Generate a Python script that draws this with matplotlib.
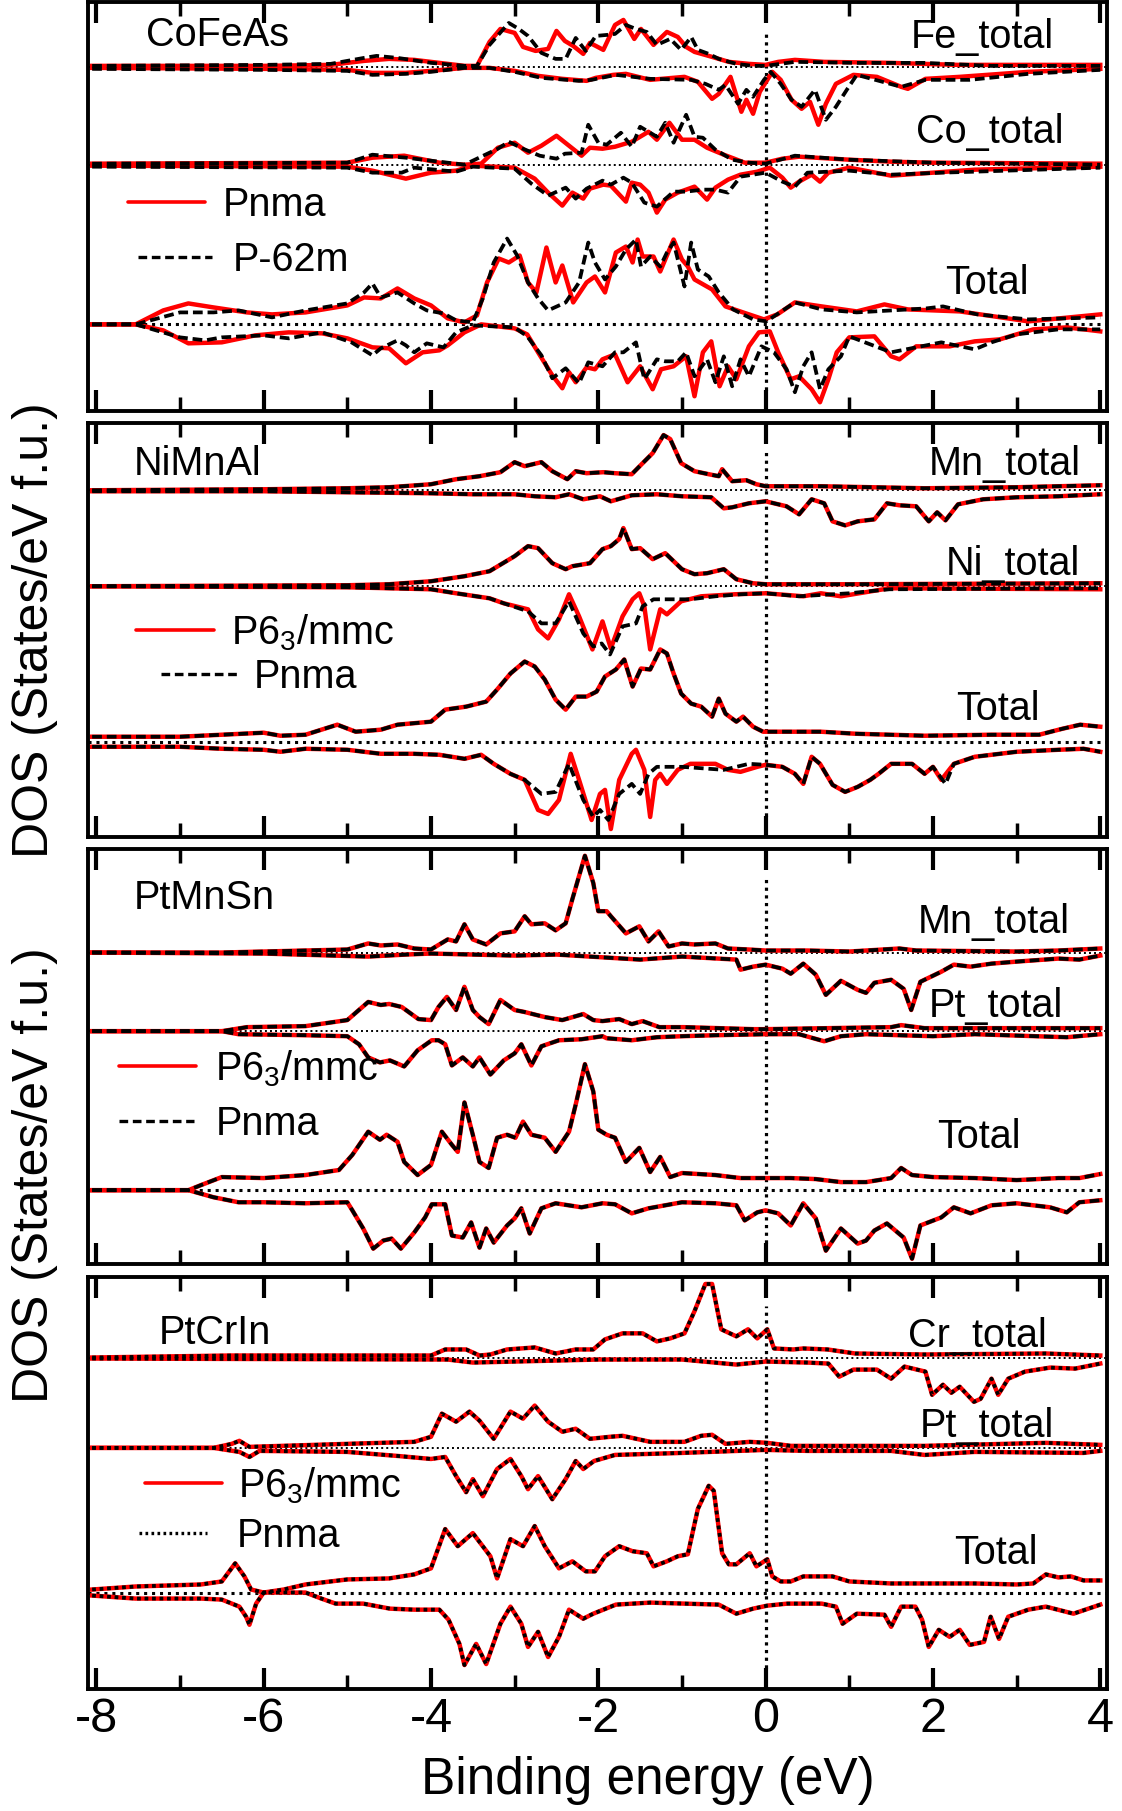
import numpy as np
import matplotlib.pyplot as plt

plt.rcParams['font.family'] = ['Liberation Sans', 'DejaVu Sans']
plt.rcParams['mathtext.fontset'] = 'custom'
plt.rcParams['mathtext.rm'] = 'Liberation Sans'
plt.rcParams['mathtext.it'] = 'Liberation Sans:italic'

# ---- DOS data: (energy eV, DOS in arbitrary units) ----
# spin-down values are stored as magnitudes and drawn below the baseline

# CoFeAs : red = Pnma, black = P-62m
cofeas_fe_up_red = [(-8.05, 1), (-6.0, 1), (-5.2, 2), (-4.8, 6), (-4.5, 8), (-4.2, 7), (-3.9, 4), (-3.6, 1),
                    (-3.45, 1), (-3.3, 25), (-3.17, 38), (-3.0, 34), (-2.9, 20), (-2.75, 16), (-2.6, 18),
                    (-2.5, 36), (-2.4, 26), (-2.3, 21), (-2.18, 13), (-2.1, 24), (-2.03, 21), (-1.94, 17),
                    (-1.8, 42), (-1.7, 47), (-1.57, 28), (-1.49, 38), (-1.34, 22), (-1.18, 35), (-1.05, 30),
                    (-0.95, 20), (-0.85, 15), (-0.64, 10), (-0.44, 5), (-0.2, 3), (0.0, 2), (0.15, 5),
                    (0.35, 7), (0.7, 5), (1.5, 4), (2.3, 2), (4.0, 2)]
cofeas_fe_up_blk = [(-8.05, 1), (-6.0, 2), (-5.2, 3), (-4.8, 9), (-4.65, 11), (-4.4, 9), (-4.0, 4), (-3.6, 1),
                    (-3.45, 1), (-3.3, 22), (-3.07, 44), (-2.95, 38), (-2.84, 31), (-2.68, 14), (-2.51, 8),
                    (-2.39, 8), (-2.27, 29), (-2.15, 16), (-2.03, 31), (-1.9, 32), (-1.8, 33), (-1.67, 42),
                    (-1.55, 38), (-1.42, 35), (-1.3, 22), (-1.14, 28), (-1.01, 17), (-0.89, 30), (-0.81, 17),
                    (-0.68, 13), (-0.56, 8), (-0.35, 3), (-0.15, 1), (0.0, 1), (0.35, 5), (1.1, 4), (1.9, 4),
                    (2.7, 1), (4.0, 1)]
cofeas_fe_dn_red = [(-8.05, 1), (-6.0, 2), (-5.0, 3), (-4.7, 6), (-4.3, 6), (-4.0, 4), (-3.6, 1), (-3.3, 1),
                    (-3.0, 4), (-2.72, 9), (-2.43, 12), (-2.14, 14), (-2.03, 11), (-1.82, 8), (-1.67, 7),
                    (-1.38, 13), (-0.97, 10), (-0.81, 15), (-0.64, 32), (-0.56, 27), (-0.42, 10), (-0.29, 45),
                    (-0.23, 33), (-0.15, 47), (-0.07, 25), (0.08, 5), (0.18, 13), (0.31, 33), (0.43, 42),
                    (0.53, 35), (0.63, 58), (0.72, 37), (0.84, 17), (1.05, 8), (1.33, 10), (1.62, 20),
                    (1.7, 22), (1.91, 12), (2.32, 10), (3.14, 5), (4.0, 2)]
cofeas_fe_dn_blk = [(-8.05, 2), (-6.0, 3), (-5.0, 4), (-4.7, 8), (-4.3, 7), (-4.0, 5), (-3.6, 1), (-3.3, 1),
                    (-3.0, 5), (-2.68, 11), (-2.23, 14), (-2.08, 13), (-1.79, 8), (-1.38, 12), (-0.89, 13),
                    (-0.72, 17), (-0.56, 23), (-0.48, 18), (-0.33, 37), (-0.23, 23), (-0.15, 30), (-0.02, 13),
                    (0.06, 5), (0.18, 17), (0.31, 33), (0.43, 40), (0.59, 23), (0.72, 53), (0.84, 40),
                    (0.97, 23), (1.09, 8), (1.62, 20), (1.91, 13), (2.44, 13), (3.14, 7), (4.0, 3)]
cofeas_co_up_red = [(-8.05, 1), (-5.0, 2), (-4.7, 7), (-4.32, 9), (-3.9, 2), (-3.6, 0), (-3.4, 1), (-3.2, 17),
                    (-3.0, 22), (-2.84, 12), (-2.68, 19), (-2.5, 29), (-2.35, 19), (-2.2, 9), (-2.1, 17),
                    (-1.95, 16), (-1.8, 18), (-1.6, 23), (-1.4, 33), (-1.3, 25), (-1.15, 42), (-1.0, 25),
                    (-0.85, 25), (-0.7, 17), (-0.5, 10), (-0.25, 2), (0.0, 2), (0.2, 6), (0.4, 8), (1.0, 5),
                    (1.5, 3), (2.0, 2), (4.0, 1)]
cofeas_co_up_blk = [(-8.05, 1), (-5.0, 2), (-4.7, 10), (-4.3, 7), (-3.6, 0), (-3.2, 16), (-3.07, 23),
                    (-2.9, 16), (-2.7, 9), (-2.5, 6), (-2.4, 11), (-2.2, 12), (-2.12, 40), (-2.0, 22),
                    (-1.9, 20), (-1.73, 32), (-1.6, 18), (-1.5, 38), (-1.3, 28), (-1.2, 42), (-1.1, 22),
                    (-0.95, 50), (-0.85, 28), (-0.75, 27), (-0.6, 15), (-0.4, 5), (-0.2, 2), (0.0, 1),
                    (0.35, 9), (1.0, 5), (2.0, 2), (4.0, 0)]
cofeas_co_dn_red = [(-8.05, 1), (-5.0, 2), (-4.7, 6), (-4.3, 14), (-4.0, 8), (-3.7, 6), (-3.5, 1), (-3.0, 3),
                    (-2.76, 14), (-2.6, 28), (-2.43, 41), (-2.31, 28), (-2.18, 34), (-2.1, 24), (-1.94, 20),
                    (-1.85, 21), (-1.67, 37), (-1.6, 18), (-1.5, 20), (-1.4, 28), (-1.3, 48), (-1.2, 35),
                    (-1.05, 28), (-0.85, 22), (-0.7, 35), (-0.6, 23), (-0.45, 15), (-0.3, 10), (-0.1, 7),
                    (0.05, 3), (0.2, 13), (0.3, 23), (0.4, 17), (0.55, 10), (0.65, 17), (0.75, 8), (1.0, 3),
                    (1.5, 11), (2.0, 8), (2.5, 5), (4.0, 2)]
cofeas_co_dn_blk = [(-8.05, 2), (-5.0, 3), (-4.7, 8), (-4.35, 8), (-4.2, 3), (-3.7, 7), (-3.5, 2), (-3.0, 4),
                    (-2.8, 19), (-2.6, 31), (-2.39, 23), (-2.27, 34), (-2.14, 24), (-1.95, 16), (-1.85, 20),
                    (-1.7, 13), (-1.6, 18), (-1.45, 38), (-1.3, 42), (-1.1, 27), (-0.95, 27), (-0.75, 25),
                    (-0.6, 25), (-0.45, 28), (-0.3, 12), (0.0, 8), (0.2, 17), (0.35, 22), (0.5, 8), (1.0, 6),
                    (1.5, 10), (2.1, 8), (2.5, 7), (4.0, 3)]
cofeas_tot_up_red = [(-8.05, 0), (-7.53, 0), (-7.2, 14), (-6.9, 21), (-6.6, 17), (-6.2, 12), (-5.9, 10),
                     (-5.5, 12), (-5.0, 19), (-4.8, 27), (-4.6, 26), (-4.4, 36), (-4.2, 26), (-4.0, 19),
                     (-3.8, 6), (-3.6, 2), (-3.45, 9), (-3.33, 42), (-3.19, 66), (-3.07, 62), (-2.94, 69),
                     (-2.84, 42), (-2.74, 32), (-2.62, 77), (-2.51, 42), (-2.43, 59), (-2.3, 22), (-2.14, 42),
                     (-2.04, 48), (-1.92, 32), (-1.79, 72), (-1.67, 78), (-1.59, 62), (-1.53, 85), (-1.47, 68),
                     (-1.34, 68), (-1.26, 53), (-1.1, 85), (-1.0, 65), (-0.93, 58), (-0.85, 45), (-0.64, 35),
                     (-0.48, 18), (-0.27, 12), (-0.02, 5), (0.14, 10), (0.35, 22), (0.67, 18), (1.09, 13),
                     (1.42, 20), (1.7, 15), (2.32, 13), (3.14, 3), (4.0, 10)]
cofeas_tot_up_blk = [(-8.05, 0), (-7.53, 0), (-7.0, 12), (-6.6, 12), (-6.3, 14), (-5.9, 7), (-5.5, 14),
                     (-5.0, 21), (-4.8, 32), (-4.7, 41), (-4.6, 27), (-4.4, 32), (-4.2, 21), (-4.05, 14),
                     (-3.85, 11), (-3.7, 4), (-3.5, 2), (-3.38, 26), (-3.25, 62), (-3.09, 86), (-2.97, 69),
                     (-2.84, 42), (-2.72, 26), (-2.6, 14), (-2.39, 22), (-2.23, 42), (-2.12, 82), (-2.04, 62),
                     (-1.92, 45), (-1.79, 58), (-1.67, 75), (-1.55, 85), (-1.49, 58), (-1.38, 68), (-1.26, 58),
                     (-1.18, 72), (-1.1, 82), (-0.97, 38), (-0.89, 82), (-0.81, 55), (-0.68, 48), (-0.56, 32),
                     (-0.39, 15), (-0.15, 5), (0.01, 3), (0.35, 22), (0.67, 15), (1.09, 12), (1.92, 16),
                     (2.12, 18), (2.53, 10), (3.14, 5), (4.0, 7)]
cofeas_tot_dn_red = [(-8.05, 0), (-7.53, 0), (-7.2, 6), (-6.9, 19), (-6.5, 18), (-6.1, 11), (-5.7, 8),
                     (-5.3, 9), (-5.0, 14), (-4.7, 23), (-4.5, 24), (-4.3, 39), (-4.1, 28), (-3.9, 26),
                     (-3.8, 21), (-3.6, 8), (-3.4, 0), (-3.0, 4), (-2.85, 10), (-2.72, 28), (-2.55, 51),
                     (-2.43, 64), (-2.35, 48), (-2.27, 58), (-2.14, 43), (-2.04, 45), (-1.95, 35), (-1.8, 30),
                     (-1.65, 58), (-1.5, 42), (-1.35, 65), (-1.25, 45), (-1.1, 42), (-0.95, 32), (-0.85, 72),
                     (-0.75, 28), (-0.65, 17), (-0.55, 62), (-0.45, 42), (-0.35, 55), (-0.2, 22), (-0.08, 8),
                     (0.05, 7), (0.15, 28), (0.3, 55), (0.4, 52), (0.55, 65), (0.65, 78), (0.75, 55),
                     (0.85, 28), (1.0, 13), (1.3, 12), (1.5, 32), (1.6, 35), (1.8, 22), (2.2, 22), (2.5, 17),
                     (2.8, 15), (3.2, 5), (3.6, 3), (4.0, 7)]
cofeas_tot_dn_blk = [(-8.05, 0), (-7.53, 0), (-7.0, 13), (-6.7, 16), (-6.5, 13), (-6.0, 11), (-5.7, 14),
                     (-5.3, 8), (-4.95, 18), (-4.7, 31), (-4.6, 24), (-4.4, 16), (-4.3, 21), (-4.2, 28),
                     (-4.05, 19), (-3.85, 23), (-3.7, 8), (-3.5, 1), (-3.0, 3), (-2.85, 12), (-2.68, 31),
                     (-2.55, 54), (-2.39, 44), (-2.23, 59), (-2.12, 38), (-1.95, 42), (-1.8, 28), (-1.7, 28),
                     (-1.55, 18), (-1.45, 55), (-1.3, 35), (-1.2, 37), (-1.05, 37), (-0.95, 28), (-0.85, 52),
                     (-0.7, 35), (-0.6, 58), (-0.5, 32), (-0.4, 62), (-0.3, 35), (-0.2, 52), (-0.05, 22),
                     (0.1, 28), (0.25, 45), (0.35, 68), (0.45, 42), (0.55, 28), (0.65, 65), (0.75, 45),
                     (0.9, 32), (1.0, 12), (1.5, 28), (1.8, 23), (2.1, 18), (2.5, 25), (2.7, 18), (3.0, 10),
                     (3.5, 5), (4.0, 5)]

# NiMnAl : red = P6_3/mmc, black = Pnma
nimnal_mn_up = [(-8.05, 0), (-6.0, 1), (-5.0, 2), (-4.5, 3), (-4.0, 6), (-3.7, 11), (-3.42, 14), (-3.17, 18),
                (-3.0, 28), (-2.88, 24), (-2.68, 28), (-2.55, 19), (-2.37, 11), (-2.27, 19), (-2.14, 17),
                (-1.94, 18), (-1.8, 17), (-1.6, 16), (-1.47, 27), (-1.35, 37), (-1.22, 55), (-1.14, 51),
                (-1.01, 27), (-0.85, 19), (-0.68, 16), (-0.56, 14), (-0.52, 21), (-0.4, 9), (-0.23, 10),
                (-0.11, 6), (0.0, 4), (0.66, 4), (1.9, 2), (3.0, 3), (4.0, 5)]
nimnal_mn_dn = [(-8.05, 1), (-6.0, 1), (-4.0, 3), (-3.5, 4), (-3.0, 4), (-2.76, 6), (-2.51, 7), (-2.35, 4),
                (-2.18, 9), (-1.98, 6), (-1.85, 11), (-1.6, 5), (-1.3, 4), (-1.0, 6), (-0.65, 7), (-0.5, 18),
                (-0.4, 17), (-0.2, 13), (0.0, 11), (0.25, 16), (0.4, 24), (0.55, 9), (0.7, 13), (0.8, 31),
                (0.95, 35), (1.1, 31), (1.3, 29), (1.45, 13), (1.6, 15), (1.8, 16), (1.95, 31), (2.05, 22),
                (2.15, 30), (2.3, 14), (2.6, 9), (3.0, 7), (3.5, 6), (4.0, 4)]
nimnal_ni_up = [(-8.05, 0), (-5.0, 1), (-4.5, 2), (-4.0, 5), (-3.6, 10), (-3.3, 15), (-3.0, 30), (-2.84, 40),
                (-2.72, 38), (-2.55, 23), (-2.39, 17), (-2.31, 20), (-2.1, 23), (-1.95, 37), (-1.85, 40),
                (-1.75, 47), (-1.7, 58), (-1.6, 37), (-1.5, 38), (-1.35, 27), (-1.2, 33), (-1.0, 17),
                (-0.85, 12), (-0.7, 13), (-0.5, 17), (-0.35, 7), (-0.15, 3), (0.0, 2), (1.0, 2), (4.0, 3)]
nimnal_ni_dn_red = [(-8.05, 0), (-5.0, 1), (-4.0, 3), (-3.7, 7), (-3.3, 12), (-3.13, 17), (-2.84, 23),
                    (-2.72, 43), (-2.6, 52), (-2.47, 33), (-2.35, 8), (-2.23, 30), (-2.07, 63), (-1.95, 35),
                    (-1.85, 62), (-1.71, 30), (-1.59, 13), (-1.51, 7), (-1.45, 20), (-1.38, 63), (-1.32, 43),
                    (-1.26, 23), (-1.18, 28), (-1.01, 15), (-0.77, 10), (-0.37, 8), (0.0, 7), (0.45, 10),
                    (0.66, 7), (0.9, 10), (1.48, 2), (4.0, 3)]
nimnal_ni_dn_blk = [(-8.05, 0), (-5.0, 1), (-4.0, 3), (-3.7, 7), (-3.3, 12), (-3.13, 17), (-2.84, 25),
                    (-2.68, 37), (-2.51, 37), (-2.35, 15), (-2.18, 47), (-2.06, 60), (-1.96, 57), (-1.86, 68),
                    (-1.71, 40), (-1.55, 37), (-1.47, 20), (-1.34, 13), (-1.1, 13), (-0.9, 13), (-0.6, 10),
                    (-0.3, 8), (0.0, 7), (0.4, 10), (1.0, 7), (1.48, 3), (4.0, 2)]
nimnal_tot_up = [(-8.05, 5), (-7.0, 5), (-6.5, 7), (-6.0, 9), (-5.8, 6), (-5.5, 7), (-5.12, 17), (-4.9, 10),
                 (-4.6, 12), (-4.4, 17), (-4.0, 20), (-3.83, 32), (-3.58, 35), (-3.34, 40), (-3.21, 52),
                 (-3.05, 68), (-2.88, 80), (-2.76, 75), (-2.64, 62), (-2.51, 42), (-2.39, 32), (-2.27, 45),
                 (-2.14, 45), (-2.02, 50), (-1.92, 65), (-1.79, 72), (-1.69, 82), (-1.59, 55), (-1.49, 73),
                 (-1.38, 72), (-1.26, 92), (-1.18, 88), (-1.1, 68), (-1.01, 48), (-0.89, 38), (-0.77, 35),
                 (-0.64, 25), (-0.56, 43), (-0.48, 28), (-0.35, 20), (-0.27, 25), (-0.15, 15), (-0.03, 10),
                 (0.66, 10), (1.07, 8), (1.9, 6), (2.7, 7), (3.27, 7), (3.55, 13), (3.76, 17), (4.0, 15)]
nimnal_tot_dn_red = [(-8.05, 5), (-7.0, 5), (-6.5, 7), (-6.0, 8), (-5.8, 10), (-5.5, 7), (-5.0, 8),
                     (-4.6, 12), (-4.2, 12), (-3.9, 13), (-3.6, 17), (-3.4, 13), (-3.25, 22), (-3.05, 32),
                     (-2.88, 38), (-2.72, 68), (-2.6, 72), (-2.47, 58), (-2.33, 12), (-2.23, 38), (-2.08, 78),
                     (-1.98, 52), (-1.92, 48), (-1.85, 87), (-1.75, 38), (-1.6, 12), (-1.55, 8), (-1.45, 28),
                     (-1.38, 75), (-1.32, 38), (-1.26, 32), (-1.18, 42), (-1.05, 28), (-0.9, 22), (-0.6, 22),
                     (-0.45, 28), (-0.3, 30), (-0.1, 25), (0.0, 23), (0.2, 25), (0.35, 32), (0.45, 42),
                     (0.55, 15), (0.65, 22), (0.8, 43), (0.95, 50), (1.1, 45), (1.25, 38), (1.35, 32),
                     (1.5, 22), (1.75, 22), (1.9, 32), (2.0, 25), (2.1, 38), (2.25, 22), (2.5, 15), (3.0, 10),
                     (3.5, 8), (3.8, 7), (4.0, 10)]
nimnal_tot_dn_blk = [(-8.05, 5), (-7.0, 5), (-6.5, 7), (-6.0, 8), (-5.8, 10), (-5.5, 7), (-5.0, 8),
                     (-4.6, 12), (-4.2, 12), (-3.9, 13), (-3.6, 17), (-3.4, 13), (-3.25, 22), (-3.05, 32),
                     (-2.88, 38), (-2.68, 52), (-2.51, 50), (-2.35, 22), (-2.18, 58), (-2.06, 75), (-1.98, 68),
                     (-1.88, 78), (-1.75, 52), (-1.6, 42), (-1.5, 52), (-1.4, 32), (-1.3, 25), (-1.0, 25),
                     (-0.5, 28), (-0.2, 22), (0.0, 23), (0.2, 25), (0.35, 32), (0.45, 42), (0.55, 15),
                     (0.65, 22), (0.8, 43), (0.95, 50), (1.1, 45), (1.25, 38), (1.35, 32), (1.5, 22),
                     (1.75, 22), (1.9, 32), (2.0, 25), (2.15, 42), (2.25, 22), (2.5, 15), (3.0, 10), (3.5, 8),
                     (3.8, 7), (4.0, 10)]

# PtMnSn : both structures practically identical
ptmnsn_mn_up = [(-8.05, 0), (-6.5, 0), (-6.0, 1), (-5.0, 3), (-4.75, 9), (-4.6, 7), (-4.4, 8), (-4.2, 4),
                (-4.0, 3), (-3.8, 13), (-3.7, 11), (-3.6, 28), (-3.5, 13), (-3.34, 8), (-3.17, 19), (-3.0, 21),
                (-2.88, 36), (-2.8, 28), (-2.64, 29), (-2.51, 22), (-2.39, 29), (-2.31, 53), (-2.16, 96),
                (-2.06, 69), (-2.0, 41), (-1.9, 41), (-1.85, 36), (-1.67, 19), (-1.51, 26), (-1.4, 11),
                (-1.28, 21), (-1.16, 6), (-1.0, 9), (-0.85, 8), (-0.6, 9), (-0.45, 4), (-0.2, 3), (0.0, 2),
                (0.5, 2), (1.0, 1), (1.6, 4), (1.8, 2), (3.0, 1), (3.5, 2), (4.0, 4)]
ptmnsn_mn_dn = [(-8.05, 0), (-6.0, 1), (-4.75, 4), (-4.3, 2), (-4.0, 1), (-3.5, 2), (-3.0, 3), (-2.5, 2),
                (-1.5, 7), (-1.0, 4), (-0.35, 7), (-0.3, 17), (-0.15, 14), (0.0, 12), (0.2, 16), (0.3, 21),
                (0.45, 11), (0.6, 22), (0.72, 42), (0.9, 28), (1.1, 37), (1.2, 40), (1.3, 30), (1.5, 27),
                (1.65, 36), (1.74, 57), (1.85, 29), (2.1, 19), (2.25, 12), (2.45, 14), (2.7, 11), (3.0, 9),
                (3.5, 6), (3.75, 7), (4.0, 3)]
ptmnsn_pt_up = [(-8.05, 0), (-6.5, 0), (-6.2, 4), (-5.5, 5), (-5.0, 11), (-4.75, 29), (-4.6, 26), (-4.5, 27),
                (-4.35, 24), (-4.15, 12), (-4.0, 11), (-3.91, 24), (-3.81, 34), (-3.7, 21), (-3.6, 44),
                (-3.5, 21), (-3.42, 14), (-3.31, 7), (-3.17, 31), (-3.0, 21), (-2.88, 19), (-2.64, 14),
                (-2.43, 11), (-2.18, 17), (-2.06, 11), (-1.95, 10), (-1.75, 12), (-1.6, 7), (-1.47, 10),
                (-1.27, 4), (-0.98, 4), (-0.15, 2), (0.0, 2), (1.5, 4), (1.62, 6), (1.9, 3), (4.0, 3)]
ptmnsn_pt_dn = [(-8.05, 0), (-6.5, 0), (-6.3, 3), (-5.5, 4), (-5.0, 5), (-4.86, 13), (-4.75, 26), (-4.61, 31),
                (-4.49, 29), (-4.32, 35), (-4.16, 19), (-3.99, 9), (-3.91, 9), (-3.83, 13), (-3.75, 34),
                (-3.62, 26), (-3.5, 35), (-3.42, 26), (-3.29, 43), (-3.13, 29), (-3.0, 22), (-2.92, 13),
                (-2.8, 34), (-2.68, 15), (-2.47, 9), (-2.2, 8), (-1.95, 5), (-1.9, 7), (-1.6, 9), (-1.3, 6),
                (-1.0, 5), (-0.6, 4), (0.0, 3), (0.4, 3), (0.7, 10), (0.9, 5), (1.2, 3), (2.0, 5), (2.5, 3),
                (3.6, 6), (4.0, 3)]
ptmnsn_tot_up = [(-8.05, 0), (-6.9, 0), (-6.75, 5), (-6.5, 13), (-6.0, 12), (-5.5, 15), (-5.1, 20),
                 (-4.94, 35), (-4.75, 58), (-4.61, 50), (-4.53, 55), (-4.4, 48), (-4.32, 28), (-4.16, 15),
                 (-4.0, 25), (-3.87, 58), (-3.75, 45), (-3.68, 38), (-3.6, 87), (-3.5, 55), (-3.42, 28),
                 (-3.31, 22), (-3.21, 52), (-3.09, 55), (-2.99, 52), (-2.9, 68), (-2.8, 55), (-2.64, 52),
                 (-2.51, 38), (-2.35, 58), (-2.27, 85), (-2.16, 125), (-2.06, 98), (-2.0, 60), (-1.9, 55),
                 (-1.8, 52), (-1.67, 28), (-1.51, 42), (-1.38, 18), (-1.26, 33), (-1.14, 13), (-1.0, 17),
                 (-0.6, 15), (-0.3, 12), (0.0, 12), (0.3, 12), (0.6, 11), (0.9, 8), (1.2, 8), (1.5, 12),
                 (1.62, 22), (1.75, 15), (2.0, 13), (2.5, 12), (3.0, 10), (3.5, 12), (3.75, 12), (4.0, 16)]
ptmnsn_tot_dn = [(-8.05, 0), (-6.9, 0), (-6.6, 7), (-6.3, 12), (-6.0, 12), (-5.5, 13), (-5.0, 12),
                 (-4.94, 20), (-4.81, 38), (-4.69, 58), (-4.57, 50), (-4.47, 48), (-4.36, 58), (-4.2, 42),
                 (-4.07, 27), (-3.99, 14), (-3.83, 14), (-3.75, 45), (-3.62, 47), (-3.52, 32), (-3.42, 57),
                 (-3.34, 38), (-3.25, 52), (-3.09, 35), (-3.0, 28), (-2.92, 18), (-2.82, 43), (-2.68, 18),
                 (-2.51, 13), (-2.2, 17), (-1.95, 13), (-1.8, 14), (-1.6, 23), (-1.4, 18), (-1.0, 12),
                 (-0.6, 13), (-0.35, 15), (-0.25, 30), (-0.1, 22), (0.0, 20), (0.15, 23), (0.3, 35),
                 (0.45, 13), (0.6, 28), (0.72, 60), (0.9, 38), (1.1, 53), (1.2, 50), (1.3, 40), (1.45, 33),
                 (1.65, 47), (1.75, 68), (1.85, 35), (2.1, 27), (2.25, 17), (2.45, 23), (2.7, 15), (3.0, 13),
                 (3.4, 17), (3.6, 22), (3.75, 12), (4.0, 10)]

# PtCrIn : both structures practically identical
ptcrin_cr_up = [(-8.05, 0), (-6.4, 2), (-4.0, 2), (-3.83, 8), (-3.58, 8), (-3.42, 2), (-3.29, 3), (-3.09, 8),
                (-2.76, 10), (-2.51, 4), (-2.27, 8), (-2.06, 8), (-1.92, 18), (-1.71, 24), (-1.47, 24),
                (-1.3, 16), (-1.14, 19), (-0.97, 24), (-0.85, 46), (-0.72, 73), (-0.64, 73), (-0.53, 28),
                (-0.35, 21), (-0.21, 28), (-0.1, 19), (0.02, 28), (0.1, 9), (0.33, 8), (0.45, 9), (0.74, 8),
                (1.07, 4), (1.9, 3), (3.35, 4), (4.0, 2)]
ptcrin_cr_dn = [(-8.05, 1), (-3.8, 2), (-3.5, 5), (-2.0, 2), (-1.0, 2), (-0.35, 7), (0.0, 4), (0.5, 5),
                (0.75, 6), (0.88, 19), (1.05, 12), (1.33, 12), (1.5, 21), (1.66, 9), (1.91, 14), (1.99, 37),
                (2.12, 27), (2.22, 35), (2.32, 29), (2.49, 44), (2.57, 41), (2.7, 21), (2.78, 37), (2.9, 21),
                (3.1, 14), (3.4, 10), (3.7, 11), (4.0, 6)]
ptcrin_pt_up = [(-8.05, 0), (-6.6, 0), (-6.38, 4), (-6.29, 7), (-6.17, 1), (-5.0, 4), (-4.2, 6), (-4.0, 11),
                (-3.87, 34), (-3.7, 26), (-3.54, 36), (-3.42, 27), (-3.25, 9), (-3.05, 36), (-2.9, 29),
                (-2.76, 42), (-2.6, 26), (-2.43, 16), (-2.27, 19), (-2.1, 9), (-1.86, 11), (-1.71, 12),
                (-1.38, 6), (-0.97, 6), (-0.77, 12), (-0.64, 13), (-0.48, 4), (-0.19, 6), (0.02, 5),
                (0.3, 2), (1.9, 2), (3.35, 5), (4.0, 3)]
ptcrin_pt_dn = [(-8.05, 0), (-6.6, 0), (-6.29, 4), (-6.17, 9), (-6.05, 3), (-5.0, 4), (-4.4, 8), (-4.0, 11),
                (-3.83, 9), (-3.7, 28), (-3.58, 44), (-3.5, 31), (-3.38, 48), (-3.21, 21), (-3.05, 11),
                (-2.92, 28), (-2.84, 41), (-2.72, 28), (-2.55, 51), (-2.39, 31), (-2.27, 13), (-2.18, 21),
                (-2.05, 13), (-1.8, 7), (-1.0, 5), (0.0, 2), (0.5, 3), (1.5, 3), (1.9, 7), (2.5, 4),
                (3.8, 5), (4.0, 3)]
ptcrin_tot_up = [(-8.05, 3), (-7.53, 6), (-6.75, 8), (-6.5, 11), (-6.34, 29), (-6.23, 16), (-6.15, 3),
                 (-6.0, 0), (-5.76, 3), (-5.5, 8), (-5.0, 13), (-4.5, 14), (-4.2, 18), (-4.0, 24),
                 (-3.83, 63), (-3.68, 46), (-3.5, 59), (-3.29, 36), (-3.21, 14), (-3.05, 53), (-2.9, 46),
                 (-2.76, 66), (-2.64, 46), (-2.47, 24), (-2.31, 31), (-2.15, 21), (-2.04, 21), (-1.92, 36),
                 (-1.75, 46), (-1.59, 41), (-1.42, 39), (-1.34, 26), (-1.18, 31), (-1.05, 36), (-0.93, 38),
                 (-0.81, 83), (-0.68, 106), (-0.62, 101), (-0.52, 39), (-0.44, 28), (-0.35, 28), (-0.19, 39),
                 (-0.11, 26), (0.02, 33), (0.08, 16), (0.18, 11), (0.3, 11), (0.45, 16), (0.8, 16), (1.0, 11),
                 (1.5, 9), (2.0, 9), (2.5, 9), (3.0, 8), (3.2, 9), (3.35, 18), (3.5, 15), (3.65, 16),
                 (3.8, 12), (4.0, 12)]
ptcrin_tot_dn = [(-8.05, 3), (-7.53, 6), (-6.75, 6), (-6.5, 7), (-6.29, 14), (-6.21, 24), (-6.17, 32),
                 (-6.09, 11), (-6.0, 0), (-5.5, 0), (-5.31, 6), (-5.14, 11), (-4.81, 11), (-4.49, 16),
                 (-4.2, 17), (-3.9, 17), (-3.79, 27), (-3.66, 51), (-3.6, 72), (-3.46, 51), (-3.34, 71),
                 (-3.17, 31), (-3.05, 14), (-2.92, 31), (-2.84, 54), (-2.72, 39), (-2.6, 64), (-2.47, 44),
                 (-2.35, 17), (-2.18, 26), (-2.06, 21), (-1.79, 12), (-1.38, 10), (-0.97, 11), (-0.56, 12),
                 (-0.35, 21), (-0.15, 16), (0.02, 13), (0.26, 11), (0.67, 11), (0.84, 14), (0.92, 31),
                 (1.09, 21), (1.42, 22), (1.5, 34), (1.62, 14), (1.79, 14), (1.87, 27), (1.95, 54),
                 (2.07, 37), (2.2, 44), (2.32, 37), (2.44, 52), (2.61, 49), (2.69, 24), (2.79, 46), (2.9, 24),
                 (3.14, 17), (3.35, 14), (3.68, 21), (4.0, 12)]

compounds = ['CoFeAs', 'NiMnAl', 'PtMnSn', 'PtCrIn']
group_names = [['Fe_total', 'Co_total', 'Total'],
               ['Mn_total', 'Ni_total', 'Total'],
               ['Mn_total', 'Pt_total', 'Total'],
               ['Cr_total', 'Pt_total', 'Total']]
legend_names = [['Pnma', 'P-62m'],
                ['P6$_3$/mmc', 'Pnma'],
                ['P6$_3$/mmc', 'Pnma'],
                ['P6$_3$/mmc', 'Pnma']]
x_ticks = [-8, -6, -4, -2, 0, 2, 4]

# per panel: (up red, down red, up black, down black) for each group
panel_curves = [
    [(cofeas_fe_up_red, cofeas_fe_dn_red, cofeas_fe_up_blk, cofeas_fe_dn_blk),
     (cofeas_co_up_red, cofeas_co_dn_red, cofeas_co_up_blk, cofeas_co_dn_blk),
     (cofeas_tot_up_red, cofeas_tot_dn_red, cofeas_tot_up_blk, cofeas_tot_dn_blk)],
    [(nimnal_mn_up, nimnal_mn_dn, nimnal_mn_up, nimnal_mn_dn),
     (nimnal_ni_up, nimnal_ni_dn_red, nimnal_ni_up, nimnal_ni_dn_blk),
     (nimnal_tot_up, nimnal_tot_dn_red, nimnal_tot_up, nimnal_tot_dn_blk)],
    [(ptmnsn_mn_up, ptmnsn_mn_dn, ptmnsn_mn_up, ptmnsn_mn_dn),
     (ptmnsn_pt_up, ptmnsn_pt_dn, ptmnsn_pt_up, ptmnsn_pt_dn),
     (ptmnsn_tot_up, ptmnsn_tot_dn, ptmnsn_tot_up, ptmnsn_tot_dn)],
    [(ptcrin_cr_up, ptcrin_cr_dn, ptcrin_cr_up, ptcrin_cr_dn),
     (ptcrin_pt_up, ptcrin_pt_dn, ptcrin_pt_up, ptcrin_pt_dn),
     (ptcrin_tot_up, ptcrin_tot_dn, ptcrin_tot_up, ptcrin_tot_dn)],
]

# ---- layout (figure / axes fractions) ----
panel_rects = [(0.0784, 0.7731, 0.9082, 0.2258),
               (0.0784, 0.5378, 0.9082, 0.2286),
               (0.0784, 0.3020, 0.9082, 0.2292),
               (0.0784, 0.0674, 0.9082, 0.2275)]
panel_ytop = [409.7, 412.7, 411.7, 409.0]
panel_offsets = [(344.7, 246.7, 86.7), (345.7, 250.0, 95.0), (309.0, 231.0, 73.3), (329.0, 239.3, 95.7)]
name_pos = [(0.0565, 0.92), (0.045, 0.9), (0.045, 0.882), (0.069, 0.863)]
group_pos = [[(0.948, 0.915), (0.957, 0.682), (0.923, 0.314)],
             [(0.974, 0.902), (0.974, 0.66), (0.934, 0.31)],
             [(0.963, 0.823), (0.957, 0.622), (0.915, 0.305)],
             [(0.941, 0.856), (0.948, 0.638), (0.932, 0.329)]]
# legend sample lines: (x0, x1, y) for red then black, text x for red then black
legend_red = [(0.039, 0.115, 0.511), (0.047, 0.124, 0.500), (0.030, 0.106, 0.476), (0.056, 0.132, 0.500)]
legend_blk = [(0.049, 0.122, 0.377), (0.072, 0.146, 0.394), (0.030, 0.104, 0.345), (0.050, 0.117, 0.379)]
legend_tx = [(0.132, 0.142), (0.140, 0.163), (0.125, 0.125), (0.147, 0.146)]
black_dash = [(2.6, 1.3), (2.6, 1.3), (2.6, 1.3), (1.0, 1.0)]

FS = 28.5
CAP = 0.034   # half cap height in axes fraction, to put text baselines
fig = plt.figure(figsize=(11.22, 18.11), dpi=100)

for i, rect in enumerate(panel_rects):
    ax = fig.add_axes(rect)
    ax.set_xlim(-8.1, 4.08)
    ax.set_ylim(0, panel_ytop[i])

    ax.axvline(0, ymin=0.05, ymax=0.93, color='black', ls=(0, (1, 1.4)), lw=2.3, zorder=1)
    for k, (base, curves) in enumerate(zip(panel_offsets[i], panel_curves[i])):
        is_total = (k == 2)
        ax.axhline(base, color='black', ls=(0, (1, 1.6)), lw=2.2 if is_total else 1.4, zorder=1)
        up_r, dn_r, up_b, dn_b = [np.asarray(c, dtype=float) for c in curves]
        ax.plot(up_r[:, 0], base + up_r[:, 1], color='red', lw=3.2, zorder=2)
        ax.plot(dn_r[:, 0], base - dn_r[:, 1], color='red', lw=3.2, zorder=2)
        ax.plot(up_b[:, 0], base + up_b[:, 1], color='black', ls=(0, black_dash[i]), lw=2.7, zorder=3)
        ax.plot(dn_b[:, 0], base - dn_b[:, 1], color='black', ls=(0, black_dash[i]), lw=2.7, zorder=3)

    ax.text(*name_pos[i], compounds[i], transform=ax.transAxes, fontsize=FS, ha='left', va='center')
    for (gx, gy), gname in zip(group_pos[i], group_names[i]):
        ax.text(gx, gy, gname, transform=ax.transAxes, fontsize=FS, ha='right', va='center')

    # legend drawn by hand to follow the original placement
    rx0, rx1, ry = legend_red[i]
    bx0, bx1, by = legend_blk[i]
    ax.plot([rx0, rx1], [ry, ry], transform=ax.transAxes, color='red', lw=2.6, solid_capstyle='round')
    ax.plot([bx0, bx1], [by, by], transform=ax.transAxes, color='black', lw=2.4,
            ls=(0, (2.6, 1.4) if i < 3 else (0.8, 1.0)))
    ax.text(legend_tx[i][0], ry - CAP, legend_names[i][0], transform=ax.transAxes, fontsize=FS,
            ha='left', va='baseline')
    ax.text(legend_tx[i][1], by - CAP, legend_names[i][1], transform=ax.transAxes, fontsize=FS,
            ha='left', va='baseline')

    ax.set_xticks(x_ticks)
    ax.set_xticks([-7, -5, -3, -1, 1, 3], minor=True)
    ax.set_yticks([])
    ax.tick_params(axis='x', which='both', direction='in', top=True, bottom=True)
    ax.tick_params(axis='x', which='major', length=15, width=3, labelsize=35, pad=6)
    ax.tick_params(axis='x', which='minor', length=10, width=2.5)
    for sp in ax.spines.values():
        sp.set_linewidth(2.8)
    if i < 3:
        ax.tick_params(axis='x', labelbottom=False)
    else:
        ax.set_xticklabels([str(t) for t in x_ticks])
        ax.set_xlabel('Binding energy (eV)', fontsize=37)
        ax.xaxis.set_label_coords(0.549, -0.162)

fig.text(0.031, 0.652, 'DOS (States/eV f.u.)', rotation=90, ha='center', va='center', fontsize=36)
fig.text(0.031, 0.351, 'DOS (States/eV f.u.)', rotation=90, ha='center', va='center', fontsize=36)

fig.savefig('out.png', dpi=100)
